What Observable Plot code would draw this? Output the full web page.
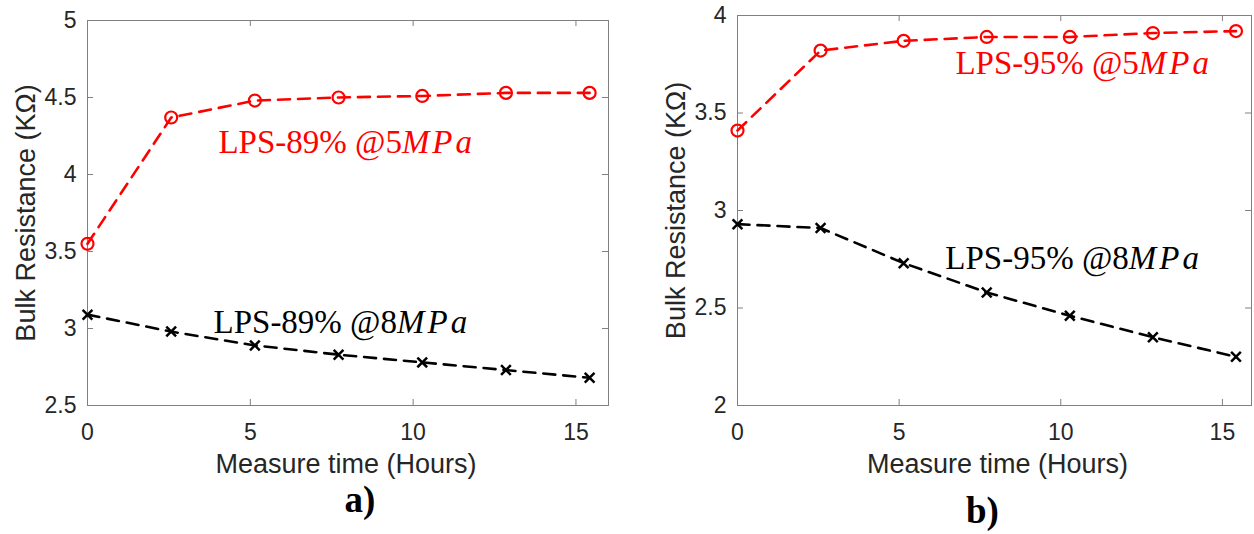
<!DOCTYPE html>
<html><head><meta charset="utf-8">
<script src="https://cdn.jsdelivr.net/npm/d3@7"></script>
<script src="https://cdn.jsdelivr.net/npm/@observablehq/plot@0.6"></script>
<style>
body{margin:0;background:#fff}
#wrap{display:flex;width:1254px;height:534px;overflow:hidden}
</style>
</head><body><div id="wrap"></div>
<script>
// ---- data ----
const hours = [0, 2.57, 5.14, 7.71, 10.28, 12.85, 15.42];
const lps89_5MPa = [3.55, 4.37, 4.48, 4.50, 4.51, 4.53, 4.53];
const lps89_8MPa = [3.09, 2.98, 2.89, 2.83, 2.78, 2.73, 2.68];
const lps95_5MPa = [3.41, 3.82, 3.87, 3.89, 3.89, 3.91, 3.92];
const lps95_8MPa = [2.93, 2.91, 2.73, 2.58, 2.46, 2.35, 2.25];
const xTicks = [0, 5, 10, 15];
const yTicksA = [2.5, 3, 3.5, 4, 4.5, 5];
const yTicksB = [2, 2.5, 3, 3.5, 4];
const xTitle = "Measure time (Hours)";
const yTitle = "Bulk Resistance (KΩ)";

const gray = "#808080";
const serif = "'Liberation Serif', 'Times New Roman', serif";

function panel(cfg) {
  const innerW = cfg.width - cfg.marginLeft - cfg.marginRight;
  const innerH = cfg.height - cfg.marginTop - cfg.marginBottom;
  const red = hours.map((h, i) => ({h, v: cfg.red[i]}));
  const black = hours.map((h, i) => ({h, v: cfg.black[i]}));
  const svg = Plot.plot({
    width: cfg.width, height: cfg.height,
    marginLeft: cfg.marginLeft, marginTop: cfg.marginTop,
    marginRight: cfg.marginRight, marginBottom: cfg.marginBottom,
    style: {fontFamily: "'Liberation Sans', Arial, sans-serif", fontSize: "23px", color: "#262626", background: "white", overflow: "visible"},
    x: {domain: cfg.xDomain},
    y: {domain: cfg.yDomain},
    marks: [
      Plot.frame({stroke: gray}),
      Plot.tickX(xTicks, {x: d => d, insetTop: innerH - 6, stroke: gray}),
      Plot.tickX(xTicks, {x: d => d, insetBottom: innerH - 6, stroke: gray}),
      Plot.tickY(cfg.yTicks, {y: d => d, insetRight: innerW - 6, stroke: gray}),
      Plot.tickY(cfg.yTicks, {y: d => d, insetLeft: innerW - 6, stroke: gray}),
      Plot.axisX(xTicks, {tickSize: 0, tickPadding: 18, label: null, tickFormat: d => String(d)}),
      Plot.axisY(cfg.yTicks, {tickSize: 0, tickPadding: 11, label: null, tickFormat: d => String(d)}),
      Plot.line(red, {x: "h", y: "v", stroke: "#ff0000", strokeWidth: 2.6, strokeDasharray: "12,8"}),
      Plot.dot(red, {x: "h", y: "v", r: 6, stroke: "#ff0000", strokeWidth: 2.2, fill: "none"}),
      Plot.line(black, {x: "h", y: "v", stroke: "#000", strokeWidth: 2.6, strokeDasharray: "12,8"}),
      Plot.dot(black, {x: "h", y: "v", symbol: "times", r: 4.5, stroke: "#000", strokeWidth: 2.5}),
      Plot.text([cfg.redLabel], {x: cfg.redPos[0], y: cfg.redPos[1], text: d => d, textAnchor: "start", fill: "#ff0000", fontSize: 33, fontFamily: serif}),
      Plot.text([cfg.blackLabel], {x: cfg.blackPos[0], y: cfg.blackPos[1], text: d => d, textAnchor: "start", fill: "#000", fontSize: 33, fontFamily: serif}),
      Plot.text([xTitle], {frameAnchor: "bottom", dy: 59, dx: cfg.xTitleDx, text: d => d, textAnchor: "middle", lineAnchor: "middle", fontSize: 27}),
      Plot.text([yTitle], {frameAnchor: "left", dx: -61, rotate: -90, text: d => d, textAnchor: "middle", lineAnchor: "middle", fontSize: 27}),
      Plot.text([cfg.letter], {frameAnchor: "bottom", dx: cfg.letterDx, dy: cfg.letterDy, text: d => d, textAnchor: "middle", lineAnchor: "middle", fontSize: 37, fontWeight: "bold", fontFamily: serif, fill: "#000"})
    ]
  });
  // italicize the "MPa" unit inside the series labels
  d3.select(svg).selectAll("text").each(function() {
    const t = this.textContent;
    if (/MPa$/.test(t) && this.childElementCount === 0) {
      const sel = d3.select(this);
      sel.text(null);
      sel.append("tspan").text(t.slice(0, -3));
      sel.append("tspan").attr("font-style", "italic").attr("letter-spacing", "3px").text("MPa");
    }
  });
  return svg;
}

const wrap = document.getElementById("wrap");
wrap.appendChild(panel({
  width: 627, height: 534, marginLeft: 87, marginTop: 20, marginRight: 19, marginBottom: 129,
  xDomain: [0, 16], yDomain: [2.5, 5], yTicks: yTicksA,
  red: lps89_5MPa, black: lps89_8MPa,
  redLabel: "LPS-89% @5MPa", redPos: [4.02, 4.21],
  blackLabel: "LPS-89% @8MPa", blackPos: [3.87, 3.04],
  xTitleDx: -2, letter: "a)", letterDx: 12, letterDy: 95
}));
wrap.appendChild(panel({
  width: 627, height: 534, marginLeft: 110, marginTop: 15, marginRight: 3, marginBottom: 129,
  xDomain: [0, 15.9], yDomain: [2, 4], yTicks: yTicksB,
  red: lps95_5MPa, black: lps95_8MPa,
  redLabel: "LPS-95% @5MPa", redPos: [6.74, 3.754],
  blackLabel: "LPS-95% @8MPa", blackPos: [6.43, 2.754],
  xTitleDx: 3, letter: "b)", letterDx: -12, letterDy: 106
}));
</script>
</body></html>
